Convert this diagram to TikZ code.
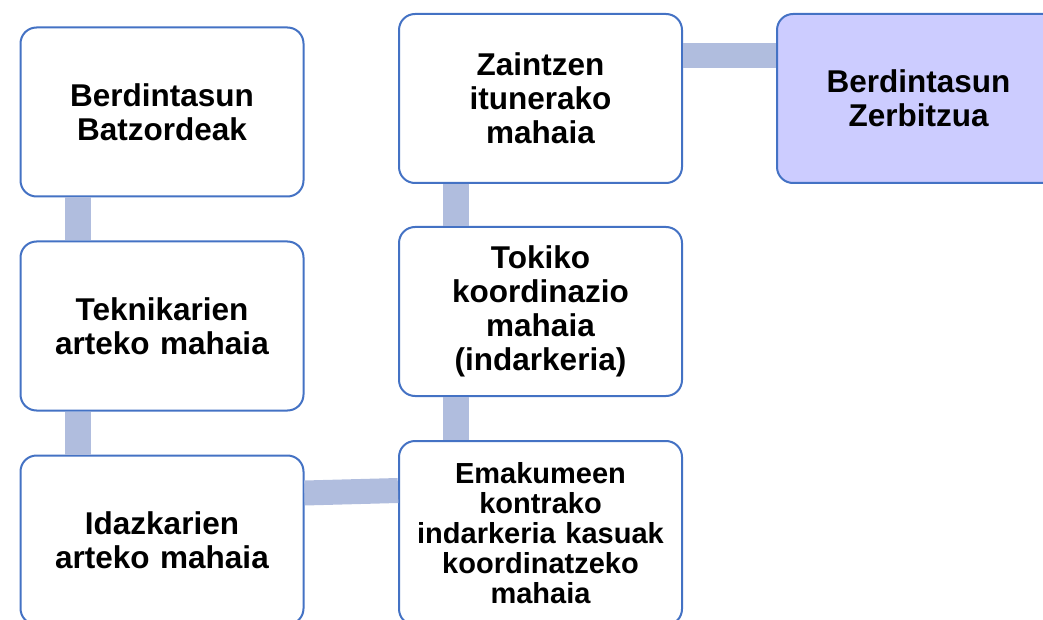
\documentclass[tikz,border=0pt]{standalone}
\usepackage{fontspec}
\setmainfont{Liberation Sans}
\usetikzlibrary{positioning}
\definecolor{boxline}{HTML}{4472C4}
\definecolor{linkfill}{HTML}{B0BDDE}
\definecolor{servfill}{HTML}{CCCCFF}
\tikzset{
  mahaia/.style={draw=boxline, line width=2pt, fill=white, rounded corners=16pt,
    minimum width=283pt, minimum height=169pt, text width=270pt, align=center,
    font=\bfseries\fontsize{31.5}{34}\selectfont},
  lotura/.style={draw=linkfill, line width=26pt},
}
\begin{document}
\begin{tikzpicture}[x=1pt,y=-1pt]
\useasboundingbox (0,0) rectangle (1043,620);
\clip (0,0) rectangle (1043,620);
\node[mahaia] (batz) at (162,112) {Berdintasun\\Batzordeak};
\node[mahaia, below=43pt of batz] (tekn) {Teknikarien\\arteko mahaia};
\node[mahaia, below=43pt of tekn] (idaz) {Idazkarien\\arteko mahaia};
\node[mahaia] (zaint) at (540.5,98.5) {Zaintzen\\itunerako\\mahaia};
\node[mahaia, below=42pt of zaint] (tokiko) {Tokiko\\koordinazio\\mahaia\\(indarkeria)};
\node[mahaia, below=43pt of tokiko, minimum height=184pt, font=\bfseries\fontsize{29}{30}\selectfont] (emak) {Emakumeen\\kontrako\\indarkeria kasuak\\koordinatzeko\\mahaia};
\node[mahaia, right=93pt of zaint, fill=servfill] (zerb) {Berdintasun\\Zerbitzua};
\draw[lotura] ([xshift=58pt]batz.south west) -- ([xshift=58pt]tekn.north west);
\draw[lotura] ([xshift=58pt]tekn.south west) -- ([xshift=58pt]idaz.north west);
\draw[lotura] ([xshift=58pt]zaint.south west) -- ([xshift=58pt]tokiko.north west);
\draw[lotura] ([xshift=58pt]tokiko.south west) -- ([xshift=58pt]emak.north west);
\draw[lotura, line width=25pt] ([yshift=-38.5pt]idaz.north east) -- ([yshift=-50.5pt]emak.north west);
\draw[lotura, line width=25pt] ([yshift=-42.5pt]zaint.north east) -- ([yshift=-42.5pt]zerb.north west);
\end{tikzpicture}
\end{document}
